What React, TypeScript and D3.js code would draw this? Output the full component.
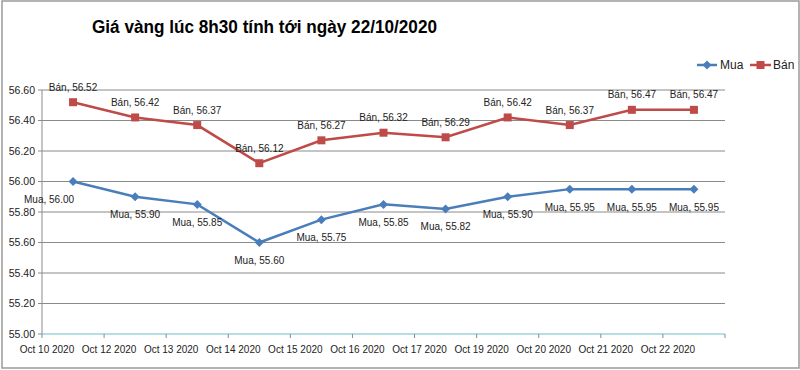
import React from 'react';
import * as d3 from 'd3';

// Chart data
const categories = [
  'Oct 10 2020', 'Oct 12 2020', 'Oct 13 2020', 'Oct 14 2020', 'Oct 15 2020', 'Oct 16 2020',
  'Oct 17 2020', 'Oct 19 2020', 'Oct 20 2020', 'Oct 21 2020', 'Oct 22 2020',
];
const muaValues = [56.0, 55.9, 55.85, 55.6, 55.75, 55.85, 55.82, 55.9, 55.95, 55.95, 55.95];
const banValues = [56.52, 56.42, 56.37, 56.12, 56.27, 56.32, 56.29, 56.42, 56.37, 56.47, 56.47];
const yTicks = [55.0, 55.2, 55.4, 55.6, 55.8, 56.0, 56.2, 56.4, 56.6];

const title = 'Giá vàng lúc 8h30 tính tới ngày 22/10/2020';
const MUA = '#4a7ebb';
const BAN = '#be4b48';
const GRID = '#8a8a8a';
const FONT = "'Liberation Sans', Arial, sans-serif";

// first Mua label was dragged left in the original
const muaLabelNudge: Record<number, number> = { 0: -24 };

const W = 800;
const H = 370;
const plot = { left: 42, right: 725, top: 90, bottom: 334 };

const diamond = 'M0,-4.5L4.5,0L0,4.5L-4.5,0Z';

export default function App() {
  const x = d3.scaleBand<string>().domain(categories).range([plot.left, plot.right]).padding(0);
  const y = d3.scaleLinear().domain([55, 56.6]).range([plot.bottom, plot.top]);
  const cx = (c: string) => (x(c) ?? 0) + x.bandwidth() / 2;

  const line = d3.line<number>()
    .x((_, i) => cx(categories[i]))
    .y(d => y(d));

  const square = d3.symbol(d3.symbolSquare, 64)()!;
  const boundaries = [...categories.map(c => x(c) ?? 0), plot.right];

  return (
    <svg width={W} height={H} style={{ position: 'absolute', left: 0, top: 0, background: '#fff' }}
      fontFamily={FONT}>
      <rect x={2} y={1} width={W - 3} height={H - 3} fill="#fff" stroke="#9a9a9a" strokeWidth={1.5} />

      <text x={92} y={27} dy="0.35em" fontSize={18} fontWeight="bold" fill="#000"
        textLength={345} lengthAdjust="spacingAndGlyphs">{title}</text>

      {/* gridlines */}
      {yTicks.filter(t => t > 55).map(t => (
        <line key={t} x1={plot.left} x2={plot.right} y1={y(t)} y2={y(t)} stroke={GRID} strokeWidth={1} />
      ))}
      {yTicks.map(t => (
        <g key={'yl' + t}>
          <line x1={plot.left - 4} x2={plot.left} y1={y(t)} y2={y(t)} stroke={GRID} />
          <text x={35} y={y(t)} dy="0.35em" textAnchor="end" fontSize={10.5} fill="#222">{t.toFixed(2)}</text>
        </g>
      ))}
      <line x1={plot.left} x2={plot.left} y1={plot.top} y2={plot.bottom} stroke={GRID} strokeWidth={1} />
      <line x1={plot.left} x2={plot.right} y1={plot.bottom} y2={plot.bottom} stroke="#6fbdcc" strokeWidth={1.2} />
      {boundaries.map((b, i) => (
        <line key={'xt' + i} x1={b} x2={b} y1={plot.bottom} y2={plot.bottom + 4} stroke={GRID} />
      ))}
      {categories.map((c, i) => (
        <text key={c} x={boundaries[i] + 5} y={349} dy="0.35em" textAnchor="middle" fontSize={10} fill="#222">{c}</text>
      ))}

      {/* series */}
      <path d={line(banValues) ?? ''} fill="none" stroke={BAN} strokeWidth={2.5} />
      <path d={line(muaValues) ?? ''} fill="none" stroke={MUA} strokeWidth={2.5} />
      {banValues.map((v, i) => (
        <path key={'bm' + i} d={square} transform={`translate(${cx(categories[i])},${y(v)})`} fill={BAN} />
      ))}
      {muaValues.map((v, i) => (
        <path key={'mm' + i} d={diamond} transform={`translate(${cx(categories[i])},${y(v)})`} fill={MUA} />
      ))}

      {/* data labels */}
      {banValues.map((v, i) => (
        <text key={'bl' + i} x={cx(categories[i])} y={y(v) - 15} dy="0.35em" textAnchor="middle"
          fontSize={10} fill="#222">{`Bán, ${v.toFixed(2)}`}</text>
      ))}
      {muaValues.map((v, i) => (
        <text key={'ml' + i} x={cx(categories[i]) + (muaLabelNudge[i] ?? 0)} y={y(v) + 18} dy="0.35em"
          textAnchor="middle" fontSize={10} fill="#222">{`Mua, ${v.toFixed(2)}`}</text>
      ))}

      {/* legend */}
      <g fontSize={12} fill="#222">
        <line x1={697} x2={717} y1={65} y2={65} stroke={MUA} strokeWidth={2.5} />
        <path d={diamond} transform="translate(707,65)" fill={MUA} />
        <text x={720} y={65} dy="0.35em">Mua</text>
        <line x1={750} x2={771} y1={65} y2={65} stroke={BAN} strokeWidth={2.5} />
        <path d={square} transform="translate(760.5,65)" fill={BAN} />
        <text x={773} y={65} dy="0.35em">Bán</text>
      </g>
    </svg>
  );
}
